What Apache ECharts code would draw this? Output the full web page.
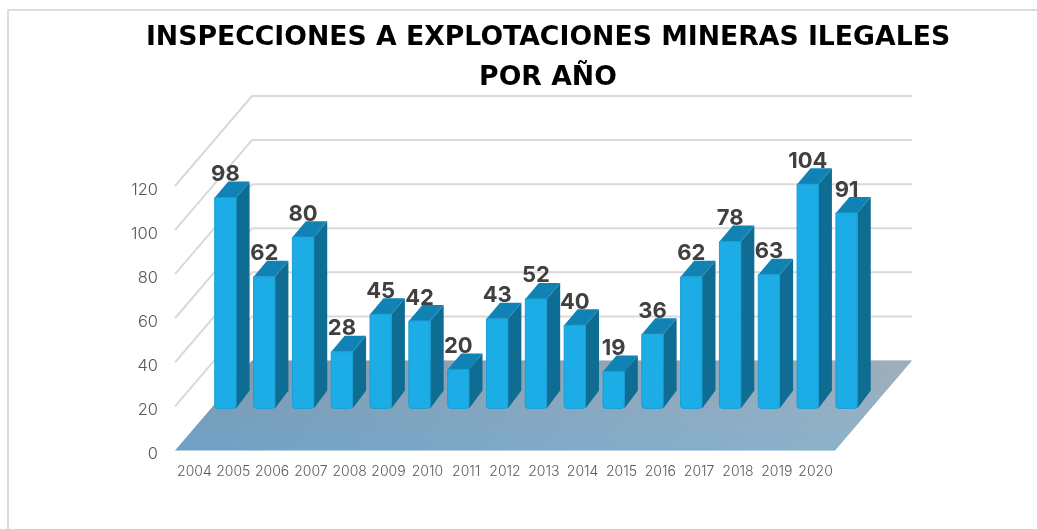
<!DOCTYPE html>
<html>
<head>
<meta charset="utf-8">
<title>Inspecciones a explotaciones mineras ilegales</title>
<script src="https://cdn.jsdelivr.net/npm/echarts@6/dist/echarts.min.js"></script>
<style>
  html, body { margin: 0; padding: 0; background: #fff; overflow: hidden; }
  #frame { position: absolute; left: 7px; top: 9px; right: 0; bottom: 0; border-top: 2px solid #dcdcdc; border-left: 2px solid #dcdcdc; }
  #chart { position: absolute; left: 0; top: 0; width: 1037px; height: 529px; }
</style>
</head>
<body>
<div id="frame"></div>
<div id="chart"></div>
<script>
const titleLines = ['INSPECCIONES A EXPLOTACIONES MINERAS ILEGALES', 'POR AÑO'];
const years = ['2004', '2005', '2006', '2007', '2008', '2009', '2010', '2011', '2012',
  '2013', '2014', '2015', '2016', '2017', '2018', '2019', '2020'];
const inspections = [98, 62, 80, 28, 45, 42, 20, 43, 52, 40, 19, 36, 62, 78, 63, 104, 91];
const yTicks = [0, 20, 40, 60, 80, 100, 120];

// perspectiva falsa: cuanto se desplaza el fondo respecto al frente
const floorDepth = [77, -90];
const barShift = [31, -37]; // donde esta el frente de las barras dentro del suelo
const barDepth = [13.5, -16];
const barFoot = 2.3; // las barras se cortan un poco antes del cero

const chart = echarts.init(document.getElementById('chart'), null, { renderer: 'canvas' });

function renderWall(params, api) {
  const level = api.value(1);
  const band = api.size([1, 0])[0];
  const first = api.coord([0, level]);
  const last = api.coord([years.length - 1, level]);
  const left = first[0] - band / 2;
  const right = last[0] + band / 2;
  const y = first[1];
  if (level === 0) {
    const points = [[left, y], [right, y], [right + floorDepth[0], y + floorDepth[1]], [left + floorDepth[0], y + floorDepth[1]]];
    return {
      type: 'group',
      children: [
        {
          type: 'polygon',
          shape: { points: points },
          style: {
            fill: new echarts.graphic.LinearGradient(0, 1, 0, 0, [
              { offset: 0, color: '#6da1c7' },
              { offset: 1, color: '#8498aa' }
            ])
          }
        },
        {
          type: 'polygon',
          shape: { points: points },
          style: {
            fill: new echarts.graphic.LinearGradient(0, 0, 1, 0, [
              { offset: 0, color: 'rgba(200,210,215,0)' },
              { offset: 1, color: 'rgba(200,210,215,0.38)' }
            ])
          }
        }
      ]
    };
  }
  return {
    type: 'polyline',
    shape: {
      points: [[left, y], [left + floorDepth[0], y + floorDepth[1]], [right + floorDepth[0], y + floorDepth[1]]]
    },
    style: { fill: null, stroke: '#d9d9d9', lineWidth: 2 }
  };
}

function renderBar(params, api) {
  const idx = api.value(0);
  const val = api.value(1);
  const width = api.size([1, 0])[0] * 0.55;
  const top = api.coord([idx, val]);
  const foot = api.coord([idx, barFoot]);
  const x0 = top[0] + barShift[0] - width / 2;
  const x1 = x0 + width;
  const y0 = top[1] + barShift[1];
  const y1 = foot[1] + barShift[1];
  const dx = barDepth[0];
  const dy = barDepth[1];
  return {
    type: 'group',
    children: [
      {
        type: 'polygon',
        shape: { points: [[x1, y0], [x1 + dx, y0 + dy], [x1 + dx, y1 + dy - 2], [x1, y1]] },
        style: { fill: '#0f6d94' }
      },
      {
        type: 'polygon',
        shape: { points: [[x0, y0], [x0 + dx, y0 + dy], [x1 + dx, y0 + dy], [x1, y0]] },
        style: { fill: '#1082b4' }
      },
      {
        type: 'rect',
        shape: { x: x0, y: y0, width: width, height: y1 - y0, r: [0, 0, 3, 3] },
        style: { fill: '#1cace6', stroke: '#1a9ed6', lineWidth: 1 }
      },
      {
        type: 'text',
        z2: 100,
        style: {
          text: String(val),
          x: (x0 + x1) / 2,
          y: y0 - 23,
          align: 'center',
          verticalAlign: 'middle',
          fill: '#404040',
          font: '700 22px Inter'
        }
      }
    ]
  };
}

chart.setOption({
  animation: false,
  title: {
    text: titleLines.join('\n'),
    left: 543,
    top: 13,
    textAlign: 'center',
    textStyle: { fontFamily: 'DejaVu Sans', fontWeight: 700, fontSize: 26.7, lineHeight: 40, color: '#000' }
  },
  grid: { left: 175, right: 202, top: 186, bottom: 78.5 },
  xAxis: {
    type: 'category',
    data: years,
    axisLine: { show: false },
    axisTick: { show: false },
    axisLabel: { color: '#595959', fontFamily: 'Inter', fontWeight: 300, fontSize: 14, margin: 14, interval: 0 }
  },
  yAxis: {
    type: 'value',
    min: 0,
    max: 120,
    interval: 20,
    axisLine: { show: false },
    axisTick: { show: false },
    splitLine: { show: false },
    axisLabel: { color: '#595959', fontFamily: 'Inter', fontWeight: 300, fontSize: 16.5, margin: 17, verticalAlign: 'top', lineHeight: 8 }
  },
  series: [
    {
      type: 'custom',
      name: 'paredes',
      clip: false,
      silent: true,
      z: 1,
      encode: { x: 0, y: 1 },
      data: yTicks.map(t => [0, t]),
      renderItem: renderWall
    },
    {
      type: 'custom',
      name: 'Inspecciones',
      clip: false,
      z: 2,
      encode: { x: 0, y: 1 },
      data: inspections.map((v, i) => [i, v]),
      renderItem: renderBar
    }
  ]
});
</script>
</body>
</html>
